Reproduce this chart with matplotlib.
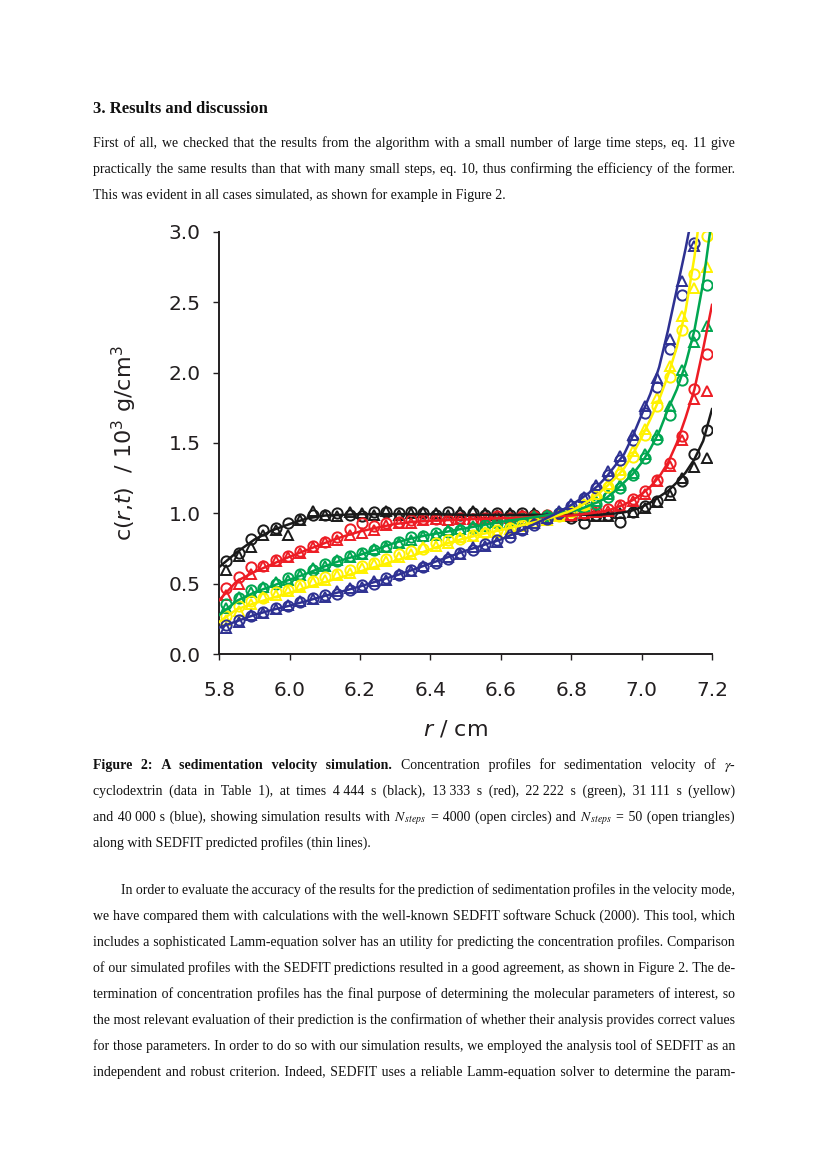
import numpy as np
import matplotlib
matplotlib.use("Agg")
import matplotlib.pyplot as plt

plt.rcParams['font.family'] = 'DejaVu Sans'
plt.rcParams['mathtext.fontset'] = 'dejavusans'

W, H = 827, 1170
SERIF = ['Liberation Serif', 'DejaVu Serif']

# SEDFIT profiles (thin lines), r in cm, c in 10^3 g/cm^3
r_line = [5.80, 5.85, 5.90, 5.95, 6.00, 6.05, 6.10, 6.15, 6.20, 6.25, 6.30, 6.35,
          6.40, 6.45, 6.50, 6.55, 6.60, 6.65, 6.70, 6.75, 6.80, 6.825, 6.85, 6.875,
          6.90, 6.925, 6.95, 6.975, 7.00, 7.025, 7.05, 7.075, 7.10, 7.125, 7.15, 7.175, 7.20]
black_line = [0.62, 0.725, 0.815, 0.88, 0.925, 0.965, 0.985, 0.99, 0.995, 0.995, 0.995, 0.995,
              0.995, 0.993, 0.99, 0.99, 0.99, 0.99, 0.99, 0.99, 0.99, 0.99, 0.99, 0.99,
              0.995, 1.0, 1.008, 1.022, 1.045, 1.078, 1.118, 1.16, 1.22, 1.29, 1.385, 1.515, 1.74]
red_line = [0.385, 0.52, 0.585, 0.64, 0.693, 0.742, 0.79, 0.835, 0.872, 0.90, 0.925, 0.94,
            0.948, 0.953, 0.958, 0.962, 0.966, 0.97, 0.975, 0.98, 0.985, 0.992, 1.0, 1.008,
            1.018, 1.038, 1.063, 1.095, 1.137, 1.19, 1.26, 1.36, 1.50, 1.68, 1.88, 2.17, 2.48]
green_line = [0.28, 0.38, 0.44, 0.485, 0.53, 0.575, 0.625, 0.67, 0.706, 0.748, 0.793, 0.825,
              0.85, 0.872, 0.895, 0.918, 0.94, 0.958, 0.975, 0.995, 1.015, 1.03, 1.055, 1.08,
              1.11, 1.16, 1.22, 1.28, 1.36, 1.46, 1.58, 1.74, 1.88, 2.06, 2.30, 2.64, 3.1]
yellow_line = [0.23, 0.32, 0.362, 0.40, 0.437, 0.475, 0.512, 0.55, 0.588, 0.626, 0.664, 0.70,
               0.745, 0.79, 0.825, 0.855, 0.882, 0.91, 0.94, 0.975, 1.02, 1.05, 1.09, 1.135,
               1.19, 1.25, 1.32, 1.42, 1.54, 1.67, 1.81, 1.98, 2.18, 2.44, 2.82, 3.3, 3.8]
blue_line = [0.19, 0.235, 0.28, 0.315, 0.345, 0.38, 0.415, 0.447, 0.482, 0.52, 0.558, 0.60,
             0.645, 0.69, 0.735, 0.775, 0.815, 0.87, 0.93, 0.99, 1.06, 1.10, 1.145, 1.195,
             1.26, 1.34, 1.42, 1.55, 1.70, 1.85, 2.04, 2.30, 2.59, 2.88, 3.2, 3.6, 4.0]

# simulation points: N_steps = 4000 (circles) and N_steps = 50 (triangles)
r_pts = [5.820, 5.855, 5.890, 5.925, 5.960, 5.995, 6.030, 6.065, 6.100, 6.135,
         6.170, 6.205, 6.240, 6.275, 6.310, 6.345, 6.380, 6.415, 6.450, 6.485,
         6.520, 6.555, 6.590, 6.625, 6.660, 6.695, 6.730, 6.765, 6.800, 6.835,
         6.870, 6.905, 6.940, 6.975, 7.010, 7.045, 7.080, 7.115, 7.150, 7.185]
nan = np.nan
black_circ = [0.66, 0.72, 0.82, 0.88, 0.90, 0.93, 0.96, 0.99, 0.99, 1.00,
              0.99, 0.98, 1.01, 1.01, 1.00, 1.01, 1.00, 0.99, 1.01, 0.99,
              1.00, 0.99, 1.00, 0.99, 1.00, 0.99, 0.98, 0.99, 0.97, 0.93,
              0.99, 0.99, 0.94, 1.01, 1.05, 1.09, 1.16, 1.23, 1.42, 1.59]
black_tri = [0.60, 0.70, 0.76, 0.85, 0.88, 0.85, 0.95, 1.02, 0.99, 0.98,
             1.01, 1.00, 0.99, 1.02, 0.99, 1.00, 1.01, 1.00, 0.99, 1.01,
             1.02, 1.00, 0.99, 1.00, 0.99, 1.00, 0.98, 0.99, 0.98, 0.99,
             0.98, 0.98, 1.00, 1.01, 1.04, 1.08, 1.13, 1.25, 1.33, 1.39]
red_circ = [0.47, 0.55, 0.62, 0.63, 0.67, 0.70, 0.73, 0.77, 0.80, 0.83,
            0.89, 0.93, 0.91, 0.93, 0.94, 0.95, 0.96, 0.96, 0.95, 0.97,
            0.96, 0.97, 0.98, 0.97, 0.98, 0.98, 0.99, 0.99, 0.99, 1.00,
            1.02, 1.03, 1.06, 1.10, 1.16, 1.24, 1.36, 1.55, 1.88, 2.13]
red_tri = [0.42, 0.50, 0.57, 0.63, 0.66, 0.69, 0.72, 0.76, 0.80, 0.81,
           0.85, 0.86, 0.88, 0.92, 0.93, 0.93, 0.95, 0.96, 0.95, 0.96,
           0.96, 0.96, 0.97, 0.97, 0.98, 0.97, 0.98, 0.99, 0.99, 1.00,
           1.01, 1.02, 1.05, 1.09, 1.14, 1.23, 1.34, 1.52, 1.81, 1.87]
green_circ = [0.36, 0.40, 0.46, 0.47, 0.50, 0.54, 0.57, 0.60, 0.64, 0.66,
              0.70, 0.72, 0.74, 0.77, 0.80, 0.83, 0.84, 0.86, 0.87, 0.88,
              0.90, 0.92, 0.93, 0.95, 0.96, 0.97, 0.98, 1.00, 1.02, 1.04,
              1.07, 1.12, 1.18, 1.27, 1.39, 1.53, 1.70, 1.95, 2.27, 2.62]
green_tri = [0.33, 0.41, 0.44, 0.48, 0.51, 0.53, 0.56, 0.61, 0.63, 0.67,
             0.69, 0.71, 0.75, 0.76, 0.79, 0.81, 0.84, 0.85, 0.88, 0.89,
             0.91, 0.91, 0.94, 0.94, 0.96, 0.98, 0.99, 1.01, 1.02, 1.05,
             1.09, 1.14, 1.20, 1.29, 1.42, 1.56, 1.76, 2.02, 2.22, 2.33]
yellow_circ = [0.27, 0.34, 0.38, 0.40, 0.44, 0.46, 0.49, 0.52, 0.55, 0.57,
               0.60, 0.63, 0.65, 0.68, 0.71, 0.73, 0.75, 0.79, 0.81, 0.82,
               0.85, 0.86, 0.88, 0.90, 0.92, 0.94, 0.96, 0.98, 1.01, 1.06,
               1.12, 1.19, 1.28, 1.40, 1.56, 1.76, 1.97, 2.30, 2.70, 2.97]
yellow_tri = [0.24, 0.31, 0.36, 0.41, 0.42, 0.45, 0.48, 0.51, 0.53, 0.56,
              0.58, 0.61, 0.64, 0.66, 0.69, 0.71, 0.76, 0.77, 0.79, 0.83,
              0.84, 0.87, 0.87, 0.89, 0.91, 0.93, 0.95, 0.98, 1.02, 1.07,
              1.14, 1.21, 1.31, 1.44, 1.60, 1.82, 2.05, 2.40, 2.60, 2.75]
blue_circ = [0.21, 0.24, 0.27, 0.30, 0.33, 0.34, 0.37, 0.40, 0.42, 0.43,
             0.46, 0.49, 0.50, 0.54, 0.56, 0.60, 0.62, 0.65, 0.68, 0.72,
             0.74, 0.78, 0.81, 0.83, 0.88, 0.92, 0.96, 1.00, 1.05, 1.11,
             1.18, 1.27, 1.38, 1.52, 1.71, 1.90, 2.17, 2.55, 2.92, nan]
blue_tri = [0.19, 0.23, 0.28, 0.29, 0.32, 0.35, 0.38, 0.39, 0.41, 0.45,
            0.47, 0.48, 0.52, 0.53, 0.57, 0.59, 0.63, 0.66, 0.69, 0.71,
            0.76, 0.77, 0.80, 0.86, 0.89, 0.93, 0.97, 1.02, 1.07, 1.12,
            1.20, 1.30, 1.41, 1.56, 1.76, 1.96, 2.24, 2.65, 2.90, nan]

series = [
    ('#1a1a1a', black_line, black_circ, black_tri),
    ('#ed1c24', red_line, red_circ, red_tri),
    ('#00a651', green_line, green_circ, green_tri),
    ('#fff200', yellow_line, yellow_circ, yellow_tri),
    ('#2e3192', blue_line, blue_circ, blue_tri),
]
x_ticks = [5.8, 6.0, 6.2, 6.4, 6.6, 6.8, 7.0, 7.2]
y_ticks = [0.0, 0.5, 1.0, 1.5, 2.0, 2.5, 3.0]

fig = plt.figure(figsize=(W / 100, H / 100), dpi=100)
fig.patch.set_facecolor('white')
rend = fig.canvas.get_renderer()


# ---- page text (justified lines built from spaces of several widths) ----
def text_kw(style, size):
    kw = dict(fontsize=size, va='baseline', ha='left', color='#111111')
    if style == 'm':
        kw['math_fontfamily'] = 'stix'
        kw['family'] = 'Liberation Serif'
    else:
        kw['family'] = SERIF
        kw['fontweight'] = 'bold' if style == 'b' else 'normal'
    return kw


def width_of(s, style, size):
    t = fig.text(0, 0, s, **text_kw(style, size))
    w = t.get_window_extent(rend).width
    t.remove()
    return w


def space_widths(style, size):
    base = width_of('aa', style, size)
    out = {}
    for sp in [' ', '\u2009', '\u200a']:
        out[sp] = (width_of('a' + sp * 10 + 'a', style, size) - base) / 10
    return out


def gap_string(target, sw):
    best, best_err, best_w = ' ', 1e9, sw[' ']
    for a in range(0, 4):
        for b in range(0, 4):
            for c in range(0, 7):
                if a + b + c == 0:
                    continue
                w = a * sw[' '] + b * sw['\u2009'] + c * sw['\u200a']
                if abs(w - target) < best_err:
                    best_err = abs(w - target)
                    best = ' ' * a + '\u2009' * b + '\u200a' * c
                    best_w = w
    return best, best_w


def put_line(segs, y, x0=93, x1=735, justify=True, size=10):
    words = [[w.replace('~', ' ') for w in s.split(' ') if w] for s, _ in segs]
    styles = [st for _, st in segs]
    sw = space_widths('n', size)
    nat = [width_of(' '.join(ws), st, size) - (len(ws) - 1) * sw[' ']
           for ws, st in zip(words, styles)]
    n_gaps = sum(len(ws) - 1 for ws in words) + len(segs) - 1
    if justify and n_gaps > 0:
        g = (x1 - x0 - sum(nat)) / n_gaps
    else:
        g = sw[' ']
    x = x0
    carry = 0.0
    for ws, st in zip(words, styles):
        s = ws[0]
        for w in ws[1:]:
            gs, gw = gap_string(g + carry, sw)
            carry += g - gw
            s += gs + w
        t = fig.text(x / W, 1 - y / H, s, **text_kw(st, size))
        x += t.get_window_extent(rend).width + g


fig.text(93 / W, 1 - 113 / H, '3. Results and discussion', fontsize=12, fontweight='bold',
         family=SERIF, va='baseline', color='#111111')

p1 = [
    "First of all, we checked that the results from the algorithm with a small number of large time steps, eq. 11 give",
    "practically the same results than that with many small steps, eq. 10, thus confirming the efficiency of the former.",
    "This was evident in all cases simulated, as shown for example in Figure 2.",
]
for i, s in enumerate(p1):
    put_line([(s, 'n')], 147 + 26 * i, justify=(i < len(p1) - 1))

cap = [
    [("Figure 2: A sedimentation velocity simulation.", 'b'),
     ("Concentration profiles for sedimentation velocity of", 'n'), (r"$\gamma$-", 'm')],
    [("cyclodextrin (data in Table 1), at times 4~444 s (black), 13~333 s (red), 22~222 s (green), 31~111 s (yellow)", 'n')],
    [("and 40~000 s (blue), showing simulation results with", 'n'), (r"$N_{\,steps}$", 'm'),
     ("= 4000 (open circles) and", 'n'), (r"$N_{\,steps}$", 'm'), ("= 50 (open triangles)", 'n')],
    [("along with SEDFIT predicted profiles (thin lines).", 'n')],
]
for i, segs in enumerate(cap):
    put_line(segs, 769 + 26 * i, justify=(i < len(cap) - 1))

p2 = [
    "In order to evaluate the accuracy of the results for the prediction of sedimentation profiles in the velocity mode,",
    "we have compared them with calculations with the well-known SEDFIT software Schuck (2000). This tool, which",
    "includes a sophisticated Lamm-equation solver has an utility for predicting the concentration profiles. Comparison",
    "of our simulated profiles with the SEDFIT predictions resulted in a good agreement, as shown in Figure 2. The de-",
    "termination of concentration profiles has the final purpose of determining the molecular parameters of interest, so",
    "the most relevant evaluation of their prediction is the confirmation of whether their analysis provides correct values",
    "for those parameters. In order to do so with our simulation results, we employed the analysis tool of SEDFIT as an",
    "independent and robust criterion. Indeed, SEDFIT uses a reliable Lamm-equation solver to determine the param-",
]
for i, s in enumerate(p2):
    put_line([(s, 'n')], 894 + 26 * i, x0=121 if i == 0 else 93)

# ---- chart ----
ax = fig.add_axes([219.3 / W, 1 - 654.3 / H, (712 - 219.3) / W, (654.3 - 231.7) / H])
for col, ln, circ, tri in series:
    ax.plot(r_pts, circ, 'o', ms=7.4, mfc='none', mec=col, mew=1.4, zorder=2)
    ax.plot(r_pts, tri, '^', ms=7.2, mfc='none', mec=col, mew=1.4, zorder=2)
    ax.plot(r_line, ln, '-', color=col, lw=1.8, zorder=3)

ax.set_xlim(5.8, 7.2)
ax.set_ylim(0, 3.0)
ax.set_xticks(x_ticks)
ax.set_xticklabels(['%.1f' % v for v in x_ticks])
ax.set_yticks(y_ticks)
ax.set_yticklabels(['%.1f' % v for v in y_ticks])
for s in ['top', 'right']:
    ax.spines[s].set_visible(False)
for s in ['left', 'bottom']:
    ax.spines[s].set_linewidth(1.4)
    ax.spines[s].set_color('#231f20')
ax.tick_params(direction='out', length=4.3, width=1.0, colors='#231f20', labelsize=14.5)
ax.tick_params(axis='x', pad=15.0)
ax.tick_params(axis='y', pad=9.0)

fig.text(124 / W, 1 - 443 / H, r'c$(r{,}t)$  / 10$^{3}$ g/cm$^{3}$', rotation=90,
         ha='center', va='center', fontsize=16, color='#231f20')
fig.text(455.6 / W, 1 - 729 / H, r'$r$ / cm', ha='center', va='center',
         fontsize=16, color='#231f20')

fig.savefig('out.png', dpi=100, facecolor='white')
